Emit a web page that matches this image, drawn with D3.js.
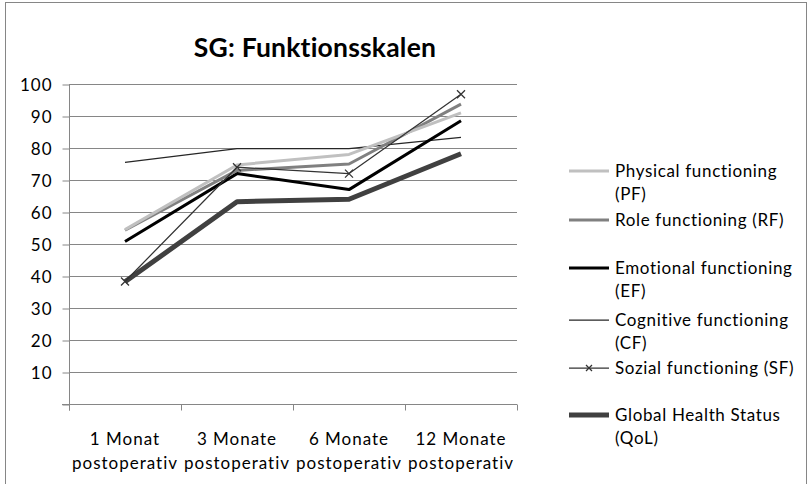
<!DOCTYPE html>
<html><head><meta charset="utf-8">
<script src="https://cdn.jsdelivr.net/npm/d3@7"></script>
<style>body{margin:0;background:#fff}svg{display:block}text{font-variant-ligatures:none;font-feature-settings:"liga" 0}</style>
</head><body>
<script>
const categories = [["1 Monat","postoperativ"],["3 Monate","postoperativ"],["6 Monate","postoperativ"],["12 Monate","postoperativ"]];
const yTicks = [0,10,20,30,40,50,60,70,80,90,100];
const PF = [54.5, 74.7, 78, 91];
const RF = [54.3, 73, 75, 93.7];
const EF = [50.8, 72, 67, 88.5];
const CF = [75.5, 79.8, 79.8, 83.3];
const SF = [38.3, 74, 72, 96.8];
const QoL = [38.2, 63.2, 64, 78.2];
const seriesNames = [["Physical functioning","(PF)"],["Role functioning (RF)"],["Emotional functioning","(EF)"],["Cognitive functioning","(CF)"],["Sozial functioning (SF)"],["Global Health Status","(QoL)"]];
const seriesValues = [PF, RF, EF, CF, SF, QoL];
const styles = [
  {c:"#c0c0c0", w:3},
  {c:"#808080", w:3},
  {c:"#000000", w:3},
  {c:"#262626", w:1.25},
  {c:"#333333", w:1.25, marker:true},
  {c:"#404040", w:5}
];
const legendY = [171, 220, 268, 320, 368, 415];

const W=810, H=484, font="Lato, 'Open Sans', sans-serif";
const svg = d3.select("body").append("svg").attr("width",W).attr("height",H);
svg.append("rect").attr("x",5.5).attr("y",2.5).attr("width",801).attr("height",490).attr("fill","#fff").attr("stroke","#868686");

const x0=69, x1=517, yTop=84, yBot=404;
const x = d3.scaleBand().domain(d3.range(categories.length)).range([x0,x1]);
const y = d3.scaleLinear().domain([0,100]).range([yBot,yTop]);

svg.append("text").attr("x",315).attr("y",57).attr("text-anchor","middle")
  .attr("font-family",font).attr("font-weight","bold").attr("font-size",26.5).attr("letter-spacing",0.2).attr("fill","#000").text("SG: Funktionsskalen");

// gridlines
svg.append("g").selectAll("line").data(yTicks.filter(d=>d>0)).join("line")
  .attr("x1",x0).attr("x2",x1).attr("y1",d=>Math.round(y(d))+0.5).attr("y2",d=>Math.round(y(d))+0.5)
  .attr("stroke","#868686").attr("stroke-width",1);

// y axis
const yAxis = d3.axisLeft(y).tickValues(yTicks).tickSize(7).tickPadding(10).tickFormat(d=>d===0?"":d);
const gy = svg.append("g").attr("transform",`translate(${x0+0.5},0.5)`).call(yAxis);
gy.selectAll(".domain").attr("stroke","#868686").attr("d",`M0,${yTop}V${yBot+6}`);
gy.selectAll(".tick line").attr("stroke","#868686");
gy.selectAll(".tick text").attr("font-family",font).attr("font-size",17).attr("letter-spacing",1).attr("fill","#000").attr("dy","0.35em");

// x axis
const xEdge = d3.scaleLinear().domain([0,categories.length]).range([x0,x1]);
const gx = svg.append("g").attr("transform",`translate(0,${yBot+0.5})`);
gx.append("line").attr("x1",x0-7).attr("x2",x1).attr("stroke","#868686");
gx.selectAll("line.t").data(d3.range(categories.length+1)).join("line").attr("class","t")
  .attr("x1",d=>Math.round(xEdge(d))+0.5).attr("x2",d=>Math.round(xEdge(d))+0.5).attr("y1",0).attr("y2",6).attr("stroke","#868686");
const lab = gx.selectAll("text").data(categories).join("text")
  .attr("x",(d,i)=>x(i)+x.bandwidth()/2).attr("y",40).attr("text-anchor","middle")
  .attr("font-family",font).attr("font-size",17).attr("letter-spacing",1).attr("fill","#000");
lab.selectAll("tspan").data(d=>d).join("tspan").attr("x",function(){return this.parentNode.getAttribute("x")}).attr("dy",(d,i)=>i?24:0).text(d=>d);

// series
const line = d3.line().x((d,i)=>x(i)+x.bandwidth()/2).y(d=>y(d));
const order = [5,3,2,1,0,4];
order.forEach(k=>{
  const s=styles[k];
  svg.append("path").attr("d",line(seriesValues[k])).attr("fill","none")
    .attr("stroke",s.c).attr("stroke-width",s.w).attr("stroke-linejoin","round");
  if(s.marker){
    svg.append("g").selectAll("path").data(seriesValues[k]).join("path")
      .attr("transform",(d,i)=>`translate(${x(i)+x.bandwidth()/2},${y(d)})`)
      .attr("d","M-4,-4L4,4M-4,4L4,-4").attr("stroke",s.c).attr("stroke-width",1.25);
  }
});

// legend
const lg = svg.append("g");
seriesNames.forEach((nm,k)=>{
  const s=styles[k], ly=legendY[k];
  lg.append("line").attr("x1",569).attr("x2",609).attr("y1",ly).attr("y2",ly).attr("stroke",s.c).attr("stroke-width",s.w);
  if(s.marker) lg.append("path").attr("transform",`translate(589,${ly})`).attr("d","M-3,-3L3,3M-3,3L3,-3").attr("stroke",s.c).attr("stroke-width",1.25);
  const t = lg.append("text").attr("x",615).attr("y",ly).attr("font-family",font).attr("font-size",17).attr("letter-spacing",0.65).attr("fill","#000");
  nm.forEach((line,j)=>t.append("tspan").attr("x",615).attr("dy",j?"1.33em":"0.35em").text(line));
});
</script>
</body></html>
